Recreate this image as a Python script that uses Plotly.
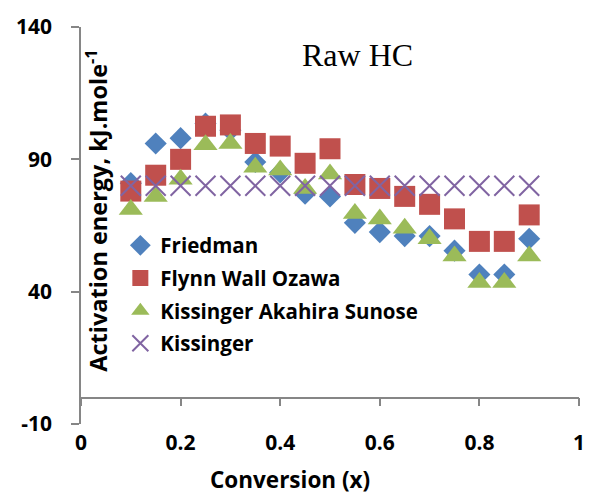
import plotly.graph_objects as go

conversion = [0.1, 0.15, 0.2, 0.25, 0.3, 0.35, 0.4, 0.45, 0.5, 0.55, 0.6, 0.65, 0.7, 0.75, 0.8, 0.85, 0.9]
friedman = [81, 96, 98, 103.5, 101, 89, 85, 77, 76, 66, 62.5, 61, 61, 55.5, 46.5, 46.5, 60]
fwo = [78, 84, 90, 102.5, 103, 96, 95, 88.5, 94, 80.5, 79, 76, 73, 67.5, 59, 59, 69]
kas = [71, 76, 82.5, 95.5, 96, 87, 86, 79, 84.5, 69.5, 67.5, 64, 60, 53.5, 43.5, 43.5, 53.5]
kissinger = [80] * 17

x_ticks = [0, 0.2, 0.4, 0.6, 0.8, 1]
x_ticktext = ["0", "0.2", "0.4", "0.6", "0.8", "1"]
y_ticks = [-10, 40, 90, 140]
y_ticktext = ["-10", "40", "90", "140"]

FONT = "Open Sans"
AXIS_GRAY = "#868686"

fig = go.Figure()
fig.add_trace(go.Scatter(x=conversion, y=friedman, mode="markers", name="Friedman",
                         marker=dict(symbol="diamond", size=17, color="#4F81BD")))
fig.add_trace(go.Scatter(x=conversion, y=fwo, mode="markers", name="Flynn Wall Ozawa",
                         marker=dict(symbol="square", size=21, color="#C0504D")))
fig.add_trace(go.Scatter(x=conversion, y=kas, mode="markers", name="Kissinger Akahira Sunose",
                         marker=dict(symbol="triangle-up", size=21, color="#9BBB59")))
fig.add_trace(go.Scatter(x=conversion, y=kissinger, mode="markers", name="Kissinger",
                         marker=dict(symbol="x-thin", size=20, color="#8064A2",
                                     line=dict(width=2, color="#8064A2"))))
# invisible trace to activate the crossing x-axis
fig.add_trace(go.Scatter(x=[0, 1], y=[0, 0], mode="markers", xaxis="x2", showlegend=False,
                         marker=dict(opacity=0), hoverinfo="skip"))

fig.update_layout(
    width=592, height=495,
    margin=dict(l=81, r=7, t=27, b=71),
    paper_bgcolor="white", plot_bgcolor="white",
    font=dict(family=FONT, color="black"),
    xaxis=dict(range=[0, 1], tickvals=x_ticks, ticktext=x_ticktext, showline=False,
               showgrid=False, zeroline=False, ticks="", ticklabelstandoff=4,
               tickfont=dict(size=21, family=FONT, weight="bold")),
    xaxis2=dict(range=[0, 1], overlaying="x", anchor="free", position=10 / 150, side="bottom",
                tickvals=x_ticks, showticklabels=False, showline=True, linecolor=AXIS_GRAY,
                linewidth=1.5, ticks="outside", ticklen=8, tickcolor=AXIS_GRAY, tickwidth=1.5,
                showgrid=False, zeroline=False),
    yaxis=dict(range=[-10, 140], tickvals=y_ticks, ticktext=y_ticktext, showline=True,
               linecolor=AXIS_GRAY, linewidth=1.5, ticks="outside", ticklen=8,
               tickcolor=AXIS_GRAY, tickwidth=1.5,
               showgrid=False, zeroline=False, ticklabelstandoff=15,
               tickfont=dict(size=21, family=FONT, weight="bold")),
    legend=dict(x=0.079, y=0.50, xanchor="left", yanchor="top", bgcolor="rgba(0,0,0,0)",
                font=dict(size=20.5, family=FONT, weight="bold"), tracegroupgap=3,
                traceorder="grouped"),
    showlegend=True,
)
for i, tr in enumerate(fig.data[:4]):
    tr.legendgroup = f"g{i}"

fig.add_annotation(text="Raw HC", x=0.555, y=0.93, xref="paper", yref="paper",
                   xanchor="center", yanchor="middle",
                   showarrow=False, font=dict(family="Liberation Serif", size=32, color="black"))
fig.add_annotation(text="<b>Activation energy, kJ.mole<sup>-1</sup></b>", textangle=-90,
                   x=0.032, y=0.537, xref="paper", yref="paper", showarrow=False,
                   xanchor="center", yanchor="middle",
                   font=dict(family=FONT, size=23.5, color="black"))
fig.add_annotation(text="<b>Conversion (x)</b>", x=0.419, y=-0.141, xref="paper", yref="paper",
                   xanchor="center", yanchor="middle", showarrow=False,
                   font=dict(family=FONT, size=22.5, color="black"))

fig.write_html("out.html")
